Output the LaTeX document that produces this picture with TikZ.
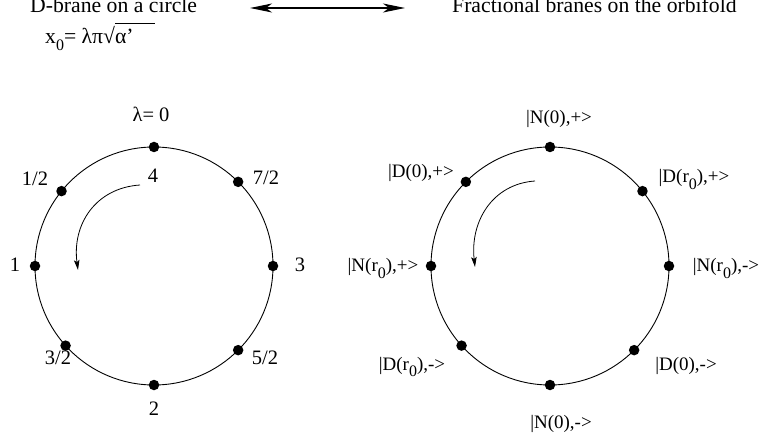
\documentclass[tikz,border=0pt]{standalone}
\usepackage{fontspec}
\setmainfont{Liberation Serif}
\usetikzlibrary{arrows.meta,calc}
\newcommand{\lo}[1]{\raisebox{-0.32em}{\fontsize{16}{16}\selectfont #1}}
\begin{document}
\begin{tikzpicture}[x=1pt,y=-1pt,
  ring/.style={line width=0.9pt},
  dot/.style={circle,fill=black,inner sep=0pt,minimum size=10.5pt},
  lab/.style={font=\fontsize{19}{21}\selectfont, inner sep=0pt},
  num/.style={font=\fontsize{20.5}{23}\selectfont, inner sep=0pt},
  ttl/.style={font=\fontsize{21.7}{24}\selectfont, inner sep=0pt},
  turn/.style={line width=0.8pt,-{Stealth[length=10pt,width=5.5pt,inset=2pt]}},
  big/.style={line width=1.3pt,{Stealth[length=22pt,width=9pt,inset=6pt]}-{Stealth[length=22pt,width=9pt,inset=6pt]}}
]
\useasboundingbox (0,0) rectangle (759,435);
% titles
\node[ttl,anchor=base west] (t1) at (30,13) {D-brane on a circle};
\node[ttl,anchor=base west] (t2) at (452,13) {Fractional branes on the orbifold};
\node[ttl,anchor=base west] (f1) at (45,44) {x\lo{0}= λπ√\rlap{\rule[0.93em]{1.85em}{0.05em}}α’};
\coordinate (a1) at (250,8);
\coordinate (a2) at (405,8);
\draw[big] (a1) -- (a2);

% left circle
\coordinate (L) at (154,266);
\draw[ring] (L) circle (119);
\foreach \n/\a in {d0/90, d1/141, d2/180, d3/222, d4/270, d5/315, d6/0, d7/45}
  \node[dot] (L\n) at ($(L)+(\a:119 and -119)$) {};
\node[num,anchor=base] (l0) at (151,122) {λ= 0};
\node[num,anchor=base] (l4) at (153,183) {4};
\node[num,anchor=base] (l12) at (35,186) {1/2};
\node[num,anchor=base] (l72) at (266,185) {7/2};
\node[num,anchor=base] (l1) at (15,271) {1};
\node[num,anchor=base] (l3) at (300,271) {3};
\node[num,anchor=base] (l32) at (58,364) {3/2};
\node[num,anchor=base] (l52) at (265,364) {5/2};
\node[num,anchor=base] (l2) at (154,415) {2};
\coordinate (ls) at (140,185);
\coordinate (le) at (78,270);
\draw[turn] (ls) .. controls (95,188) and (72,225) .. (le);

% right circle
\coordinate (R) at (550,266);
\draw[ring] (R) circle (119);
\foreach \n/\a in {d0/90, d1/135, d2/180, d3/222, d4/270, d5/315, d6/0, d7/39}
  \node[dot] (R\n) at ($(R)+(\a:119 and -119)$) {};
\node[lab,anchor=base] (r0) at (559,124) {|N(0),+>};
\node[lab,anchor=base] (r1) at (421,178) {|D(0),+>};
\node[lab,anchor=base] (r7) at (694,183) {|D(r\lo{0}),+>};
\node[lab,anchor=base] (r2) at (383,272) {|N(r\lo{0}),+>};
\node[lab,anchor=base] (r6) at (726,272) {|N(r\lo{0}),->};
\node[lab,anchor=base] (r3) at (412,370) {|D(r\lo{0}),->};
\node[lab,anchor=base] (r5) at (686,370) {|D(0),->};
\node[lab,anchor=base] (r4) at (561,428) {|N(0),->};
\coordinate (rs) at (535,181);
\coordinate (re) at (475,267);
\draw[turn] (rs) .. controls (492,184) and (470,222) .. (re);
\end{tikzpicture}
\end{document}
